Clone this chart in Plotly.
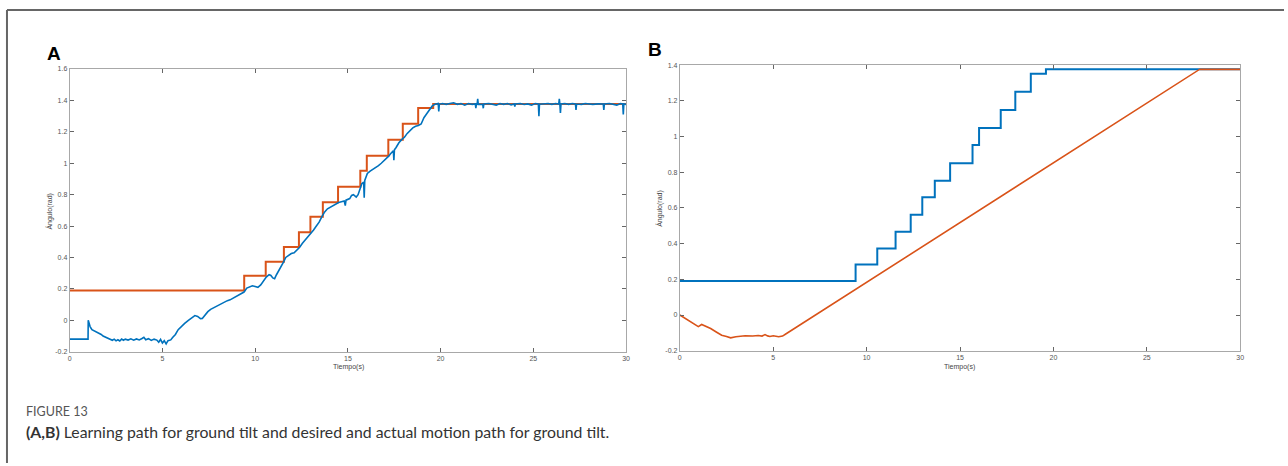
import plotly.graph_objects as go

W, H = 1288, 466

# ---------------- data ----------------
# desired (step) path, shared by both panels
step_t = [0, 9.41, 10.57, 11.55, 12.36, 12.98, 13.65, 14.47, 15.67, 16.02, 17.18, 17.96, 18.79, 19.6, 30]
step_v = [0.19, 0.283, 0.373, 0.467, 0.561, 0.659, 0.752, 0.85, 0.952, 1.048, 1.149, 1.251, 1.351, 1.377, 1.377]

# panel A actual (measured) path
actA_t = [0, 0.5, 0.99, 1.0, 1.05, 1.1, 1.2, 1.3, 1.4, 1.5, 1.6, 1.7, 1.8, 1.9, 2.0, 2.1, 2.2, 2.3, 2.4,
          2.5, 2.6, 2.7, 2.8, 2.9, 3.0, 3.15, 3.3, 3.45, 3.6, 3.75, 3.9, 4.0, 4.1, 4.25, 4.4, 4.55, 4.7,
          4.8, 4.9, 5.0, 5.1, 5.2, 5.3, 5.45, 5.55, 5.7, 5.85, 6.0, 6.2, 6.4, 6.6, 6.75, 6.9, 7.05, 7.15,
          7.3, 7.45, 7.6, 7.75, 7.9, 8.05, 8.2, 8.35, 8.5, 8.65, 8.8, 8.95, 9.1, 9.25, 9.4, 9.55, 9.7,
          9.85, 10.0, 10.15, 10.3, 10.45, 10.6, 10.75, 10.85, 10.95, 11.05, 11.15, 11.3, 11.45, 11.55,
          11.65, 11.8, 11.95, 12.1, 12.25, 12.4, 12.55, 12.7, 12.85, 13.0, 13.15, 13.3, 13.45, 13.6,
          13.75, 13.9, 14.05, 14.2, 14.35, 14.5, 14.65, 14.8, 14.86, 14.9, 15.1, 15.2, 15.3, 15.45,
          15.55, 15.65, 15.75, 15.85, 15.88, 15.91, 16.05, 16.2, 16.35, 16.5, 16.65, 16.8, 16.95, 17.1,
          17.2, 17.3, 17.45, 17.48, 17.51, 17.6, 17.75, 17.9, 18.05, 18.2, 18.35, 18.5, 18.65, 18.8,
          18.95, 19.1, 19.25, 19.4, 19.55, 19.7, 19.87, 19.9, 19.93, 20.1, 20.3, 20.5, 20.7, 20.9,
          21.1, 21.3, 21.5, 21.7, 21.87, 21.9, 21.93, 21.97, 22.0, 22.03, 22.27, 22.3, 22.33, 22.6,
          22.8, 23.0, 23.2, 23.4, 23.6, 23.8, 23.97, 24.0, 24.03, 24.3, 24.5, 24.7, 24.9, 25.1, 25.27,
          25.3, 25.33, 25.6, 25.8, 26.0, 26.2, 26.37, 26.4, 26.43, 26.46, 26.49, 26.7, 26.9, 27.1,
          27.27, 27.3, 27.33, 27.6, 27.8, 28.0, 28.2, 28.5, 28.77, 28.8, 28.83, 29.1, 29.3, 29.5, 29.7,
          29.82, 29.85, 29.88, 30.0]
actA_v = [-0.12, -0.121, -0.12, 0.0, -0.02, -0.04, -0.06, -0.065, -0.07, -0.075, -0.082, -0.09, -0.1,
          -0.105, -0.11, -0.116, -0.12, -0.127, -0.12, -0.131, -0.124, -0.132, -0.12, -0.127, -0.12,
          -0.126, -0.118, -0.127, -0.119, -0.125, -0.116, -0.108, -0.124, -0.117, -0.128, -0.12,
          -0.126, -0.14, -0.122, -0.145, -0.13, -0.15, -0.13, -0.125, -0.11, -0.09, -0.06, -0.04,
          -0.02, 0.0, 0.015, 0.03, 0.025, 0.01, 0.012, 0.035, 0.055, 0.07, 0.08, 0.085, 0.1, 0.105,
          0.115, 0.125, 0.13, 0.14, 0.15, 0.165, 0.175, 0.18, 0.205, 0.215, 0.22, 0.215, 0.21, 0.225,
          0.25, 0.275, 0.29, 0.285, 0.27, 0.265, 0.29, 0.32, 0.35, 0.375, 0.4, 0.415, 0.425, 0.43,
          0.445, 0.465, 0.49, 0.51, 0.535, 0.555, 0.575, 0.6, 0.625, 0.66, 0.69, 0.71, 0.72, 0.735,
          0.745, 0.75, 0.755, 0.76, 0.73, 0.765, 0.775, 0.795, 0.8, 0.785, 0.8, 0.84, 0.87, 0.88, 0.78,
          0.89, 0.935, 0.95, 0.96, 0.97, 0.985, 1.0, 1.015, 1.035, 1.045, 1.06, 1.08, 1.02, 1.085, 1.1,
          1.13, 1.15, 1.165, 1.19, 1.21, 1.225, 1.235, 1.24, 1.25, 1.29, 1.315, 1.34, 1.365, 1.375,
          1.38, 1.33, 1.375, 1.38, 1.375, 1.38, 1.385, 1.375, 1.38, 1.37, 1.38, 1.375, 1.378, 1.35,
          1.378, 1.377, 1.41, 1.375, 1.376, 1.35, 1.377, 1.38, 1.375, 1.37, 1.38, 1.375, 1.38, 1.372,
          1.377, 1.36, 1.377, 1.38, 1.374, 1.378, 1.37, 1.38, 1.377, 1.30, 1.376, 1.378, 1.38, 1.375,
          1.38, 1.377, 1.41, 1.377, 1.32, 1.377, 1.38, 1.375, 1.38, 1.377, 1.34, 1.377, 1.375, 1.38,
          1.378, 1.375, 1.378, 1.377, 1.34, 1.377, 1.38, 1.375, 1.37, 1.38, 1.377, 1.31, 1.377, 1.375]

# panel B actual motion path
actB_t = [0, 0.5, 0.99, 1.17, 1.4, 1.65, 1.95, 2.24, 2.5, 2.72, 3.0, 3.5, 3.9, 4.2, 4.4, 4.56, 4.7,
          4.82, 5.0, 5.29, 5.5, 5.65, 27.84, 28.3, 28.6, 29.0, 29.4, 29.7, 30.0]
actB_v = [0.0, -0.035, -0.065, -0.053, -0.062, -0.076, -0.095, -0.113, -0.12, -0.128, -0.122, -0.116,
          -0.118, -0.115, -0.118, -0.11, -0.117, -0.12, -0.116, -0.122, -0.118, -0.108, 1.377, 1.377,
          1.374, 1.377, 1.373, 1.377, 1.376]

x_ticks = [0, 5, 10, 15, 20, 25, 30]
yA_ticks = [-0.2, 0, 0.2, 0.4, 0.6, 0.8, 1, 1.2, 1.4, 1.6]
yA_text = ["-0.2", "0", "0.2", "0.4", "0.6", "0.8", "1", "1.2", "1.4", "1.6"]
yB_ticks = [-0.2, 0, 0.2, 0.4, 0.6, 0.8, 1, 1.2, 1.4]
yB_text = ["-0.2", "0", "0.2", "0.4", "0.6", "0.8", "1", "1.2", "1.4"]

BLUE = "#0072BD"
ORANGE = "#D95319"

fig = go.Figure()
fig.add_trace(go.Scatter(x=step_t, y=step_v, mode="lines", line=dict(color=ORANGE, width=2, shape="hv"),
                         xaxis="x", yaxis="y", showlegend=False))
fig.add_trace(go.Scatter(x=actA_t, y=actA_v, mode="lines", line=dict(color=BLUE, width=1.6),
                         xaxis="x", yaxis="y", showlegend=False))
fig.add_trace(go.Scatter(x=step_t, y=step_v, mode="lines", line=dict(color=BLUE, width=2, shape="hv"),
                         xaxis="x2", yaxis="y2", showlegend=False))
fig.add_trace(go.Scatter(x=actB_t, y=actB_v, mode="lines", line=dict(color=ORANGE, width=1.6),
                         xaxis="x2", yaxis="y2", showlegend=False))

def px_x(p):
    return p / W

def px_y(p):
    return 1 - p / H

axis_common = dict(showline=True, linecolor="#a8a8a8", linewidth=1, mirror="ticks", ticks="inside",
                   ticklen=4, tickcolor="#666", tickwidth=1, showgrid=False, zeroline=False,
                   tickfont=dict(family="Liberation Sans, Arial", size=7, color="#555"), fixedrange=True)

fig.update_layout(
    width=W, height=H, autosize=False,
    margin=dict(l=0, r=0, t=0, b=0),
    paper_bgcolor="white", plot_bgcolor="white",
    xaxis=dict(domain=[px_x(68), px_x(627)], range=[0, 30], tickvals=x_ticks, anchor="y", **axis_common),
    yaxis=dict(domain=[px_y(353), px_y(66)], range=[-0.2, 1.6], tickvals=yA_ticks, ticktext=yA_text,
               anchor="x", **axis_common),
    xaxis2=dict(domain=[px_x(681), px_x(1244)], range=[0, 30], tickvals=x_ticks, anchor="y2", **axis_common),
    yaxis2=dict(domain=[px_y(352), px_y(62)], range=[-0.2, 1.4], tickvals=yB_ticks, ticktext=yB_text,
                anchor="x2", **axis_common),
)

small = dict(family="Liberation Sans, Arial", size=7, color="#444")
ann = [
    dict(x=px_x(52), y=px_y(50), text="<b>A</b>", font=dict(family="Liberation Sans, Arial", size=19, color="black")),
    dict(x=px_x(656), y=px_y(46), text="<b>B</b>", font=dict(family="Liberation Sans, Arial", size=19, color="black")),
    dict(x=px_x(48), y=px_y(210), text="Ángulo(rad)", textangle=-90, font=small),
    dict(x=px_x(661), y=px_y(207), text="Ángulo(rad)", textangle=-90, font=small),
    dict(x=px_x(348), y=px_y(369), text="Tiempo(s)", font=small),
    dict(x=px_x(962), y=px_y(369), text="Tiempo(s)", font=small),
]
for a in ann:
    a.update(xref="paper", yref="paper", showarrow=False, xanchor="center", yanchor="middle")
    fig.add_annotation(**a)

fig.add_annotation(x=px_x(22), y=px_y(414), xref="paper", yref="paper", showarrow=False,
                   xanchor="left", yanchor="middle", text="FIGURE 13",
                   font=dict(family="Lato, Open Sans", size=12.5, color="#555"))
fig.add_annotation(x=px_x(22), y=px_y(434), xref="paper", yref="paper", showarrow=False,
                   xanchor="left", yanchor="middle",
                   text="<b>(A,B)</b> Learning path for ground tilt and desired and actual motion path for ground tilt.",
                   font=dict(family="Lato, Open Sans", size=15.8, color="#333"))

# outer frame (left and top edges)
fig.add_shape(type="line", xref="paper", yref="paper", x0=px_x(5), x1=px_x(5), y0=0, y1=px_y(6),
              line=dict(color="#666", width=2))
fig.add_shape(type="line", xref="paper", yref="paper", x0=px_x(5), x1=1, y0=px_y(6), y1=px_y(6),
              line=dict(color="#666", width=2))

fig.write_html("out.html", config={"displayModeBar": False},
               post_script="document.body.style.margin='0';document.body.style.overflow='hidden';")
